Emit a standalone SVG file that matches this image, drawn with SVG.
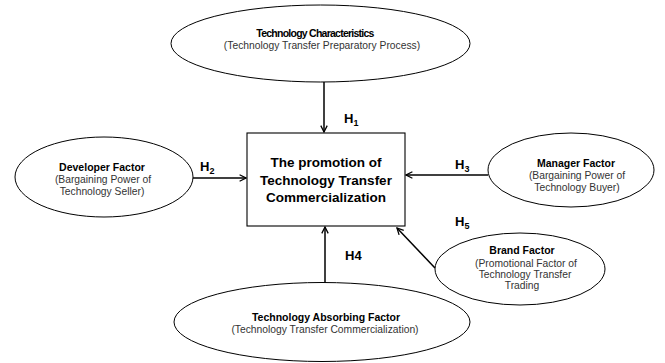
<svg xmlns="http://www.w3.org/2000/svg" width="665" height="363" viewBox="0 0 665 363">
<defs>
<marker id="arr" viewBox="0 0 10 10" refX="9" refY="5" markerWidth="8" markerHeight="8" markerUnits="userSpaceOnUse" orient="auto">
<path d="M1,1 L9,5 L1,9" fill="none" stroke="#000" stroke-width="1.6"/>
</marker>
<style>
.el{fill:#fff;stroke:#000;stroke-width:1}
.bx{fill:#fff;stroke:#000;stroke-width:1.1}
.ln{stroke:#000;stroke-width:1.5;fill:none;marker-end:url(#arr)}
text{font-family:"Liberation Sans",Arial,sans-serif;text-anchor:middle}
.t{font-size:10.5px;font-weight:bold;fill:#000}
.s{font-size:10.3px;fill:#333}
.m{font-size:13.5px;font-weight:bold;fill:#000}
.h{font-size:13px;font-weight:bold;fill:#000;text-anchor:start}
.sub{font-size:9px}
</style>
</defs>
<g id="connectors">
<line class="ln" x1="324" y1="82" x2="324" y2="132"/>
<line class="ln" x1="193" y1="178" x2="246" y2="178"/>
<line class="ln" x1="488" y1="175" x2="406" y2="175"/>
<line class="ln" x1="435" y1="268" x2="397" y2="228"/>
<line class="ln" x1="325" y1="283" x2="325" y2="227"/>
<text class="h" x="344" y="123">H<tspan class="sub" dy="3">1</tspan></text>
<text class="h" x="200" y="171">H<tspan class="sub" dy="3">2</tspan></text>
<text class="h" x="455" y="169">H<tspan class="sub" dy="3">3</tspan></text>
<text class="h" x="345" y="260">H4</text>
<text class="h" x="455" y="226">H<tspan class="sub" dy="3">5</tspan></text>
</g>
<g id="center">
<rect class="bx" x="247" y="133" width="158" height="93"/>
<text class="m" x="326" y="167">The promotion of</text>
<text class="m" x="326" y="184.5">Technology Transfer</text>
<text class="m" x="326" y="202">Commercialization</text>
</g>
<g id="tech-characteristics">
<ellipse class="el" cx="320.5" cy="43.5" rx="149.5" ry="38.5"/>
<text class="t" x="315" y="36.5" letter-spacing="-0.75">Technology Characteristics</text>
<text class="s" x="322" y="48.5">(Technology Transfer Preparatory Process)</text>
</g>
<g id="developer">
<ellipse class="el" cx="104" cy="177" rx="89" ry="40"/>
<text class="t" x="102" y="171">Developer Factor</text>
<text class="s" x="103" y="183">(Bargaining Power of</text>
<text class="s" x="102" y="194.5">Technology Seller)</text>
</g>
<g id="manager">
<ellipse class="el" cx="571" cy="170" rx="83" ry="37"/>
<text class="t" x="576" y="166.5">Manager Factor</text>
<text class="s" x="577" y="179">(Bargaining Power of</text>
<text class="s" x="577" y="190.5">Technology Buyer)</text>
</g>
<g id="brand">
<ellipse class="el" cx="520" cy="269" rx="85" ry="36"/>
<text class="t" x="522" y="254">Brand Factor</text>
<text class="s" x="526" y="266.5">(Promotional Factor of</text>
<text class="s" x="525" y="277.5">Technology Transfer</text>
<text class="s" x="522" y="288.5">Trading</text>
</g>
<g id="absorbing">
<ellipse class="el" cx="322" cy="322" rx="148" ry="39.5"/>
<text class="t" x="326" y="320.5">Technology Absorbing Factor</text>
<text class="s" x="325" y="333">(Technology Transfer Commercialization)</text>
</g>
</svg>
